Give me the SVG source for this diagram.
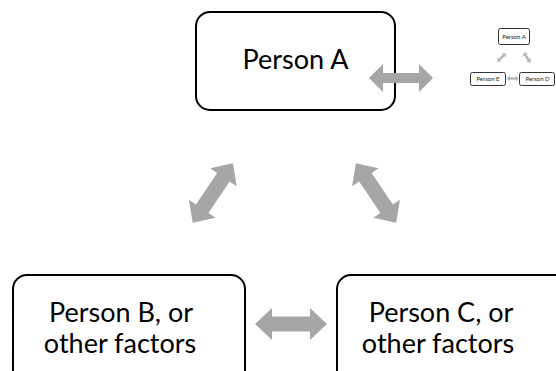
<svg xmlns="http://www.w3.org/2000/svg" xmlns:xlink="http://www.w3.org/1999/xlink" width="556" height="371" viewBox="0 0 556 371">
  <style>
    .box { fill: #ffffff; stroke: #000000; stroke-width: 2; }
    .mini { fill: #ffffff; stroke: #333333; stroke-width: 1; }
    .lbl { font-family: Lato, "Liberation Sans", sans-serif; font-size: 27px; fill: #000000; text-anchor: middle; }
    .tiny { font-family: Lato, "Liberation Sans", sans-serif; font-size: 6px; fill: #222222; text-anchor: middle; }
    .arrow { fill: #a6a6a6; }
    .arrow-mini { fill: #b8b8b8; }
  </style>
  <defs>
    <!-- double-headed block arrows, centred on the origin, pointing along x -->
    <path id="dbl" d="M-36,0 L-19,-16 L-19,-7.5 L19,-7.5 L19,-16 L36,0 L19,16 L19,7.5 L-19,7.5 L-19,16 Z"/>
    <path id="dbl-side" d="M-32,0 L-18,-14 L-18,-5 L18,-5 L18,-14 L32,0 L18,14 L18,5 L-18,5 L-18,14 Z"/>
    <path id="dbl-mini" d="M-6,0 L-3,-3 L-3,-1.3 L3,-1.3 L3,-3 L6,0 L3,3 L3,1.3 L-3,1.3 L-3,3 Z"/>
  </defs>
  <rect width="556" height="371" fill="#ffffff"/>

  <g id="node-person-a">
    <rect class="box" x="196" y="12" width="199" height="98" rx="14"/>
    <text class="lbl" x="295.5" y="69">Person A</text>
  </g>

  <g id="node-person-b">
    <rect class="box" x="13" y="275" width="232" height="110" rx="14"/>
    <text class="lbl" x="121" y="322">Person B, or</text>
    <text class="lbl" x="120" y="353">other factors</text>
  </g>

  <g id="node-person-c">
    <rect class="box" x="337" y="275" width="232" height="110" rx="14"/>
    <text class="lbl" x="441" y="322">Person C, or</text>
    <text class="lbl" x="438" y="353">other factors</text>
  </g>

  <!-- small nested copy of the same cycle -->
  <g id="inset">
    <g id="node-mini-a">
      <rect class="mini" x="498.5" y="28.5" width="31" height="16" rx="2"/>
      <text class="tiny" x="514" y="39">Person A</text>
    </g>
    <g id="node-mini-e">
      <rect class="mini" x="470.5" y="72.5" width="35" height="13" rx="2"/>
      <text class="tiny" x="488" y="81">Person E</text>
    </g>
    <g id="node-mini-d">
      <rect class="mini" x="519.5" y="72.5" width="35" height="13" rx="2"/>
      <text class="tiny" x="537.5" y="81">Person D</text>
    </g>
    <g id="mini-connectors" class="arrow-mini">
      <use xlink:href="#dbl-mini" transform="translate(501.5,57.5) rotate(-45)"/>
      <use xlink:href="#dbl-mini" transform="translate(527,57.5) rotate(55)"/>
      <use xlink:href="#dbl-mini" transform="translate(512.7,78.5)"/>
    </g>
  </g>

  <g id="connectors" class="arrow">
    <use xlink:href="#dbl-side" transform="translate(401,78)"/>
    <use xlink:href="#dbl" transform="translate(212.8,193) rotate(-56)"/>
    <use xlink:href="#dbl" transform="translate(376,193) rotate(56)"/>
    <use xlink:href="#dbl" transform="translate(291,324)"/>
  </g>
</svg>
